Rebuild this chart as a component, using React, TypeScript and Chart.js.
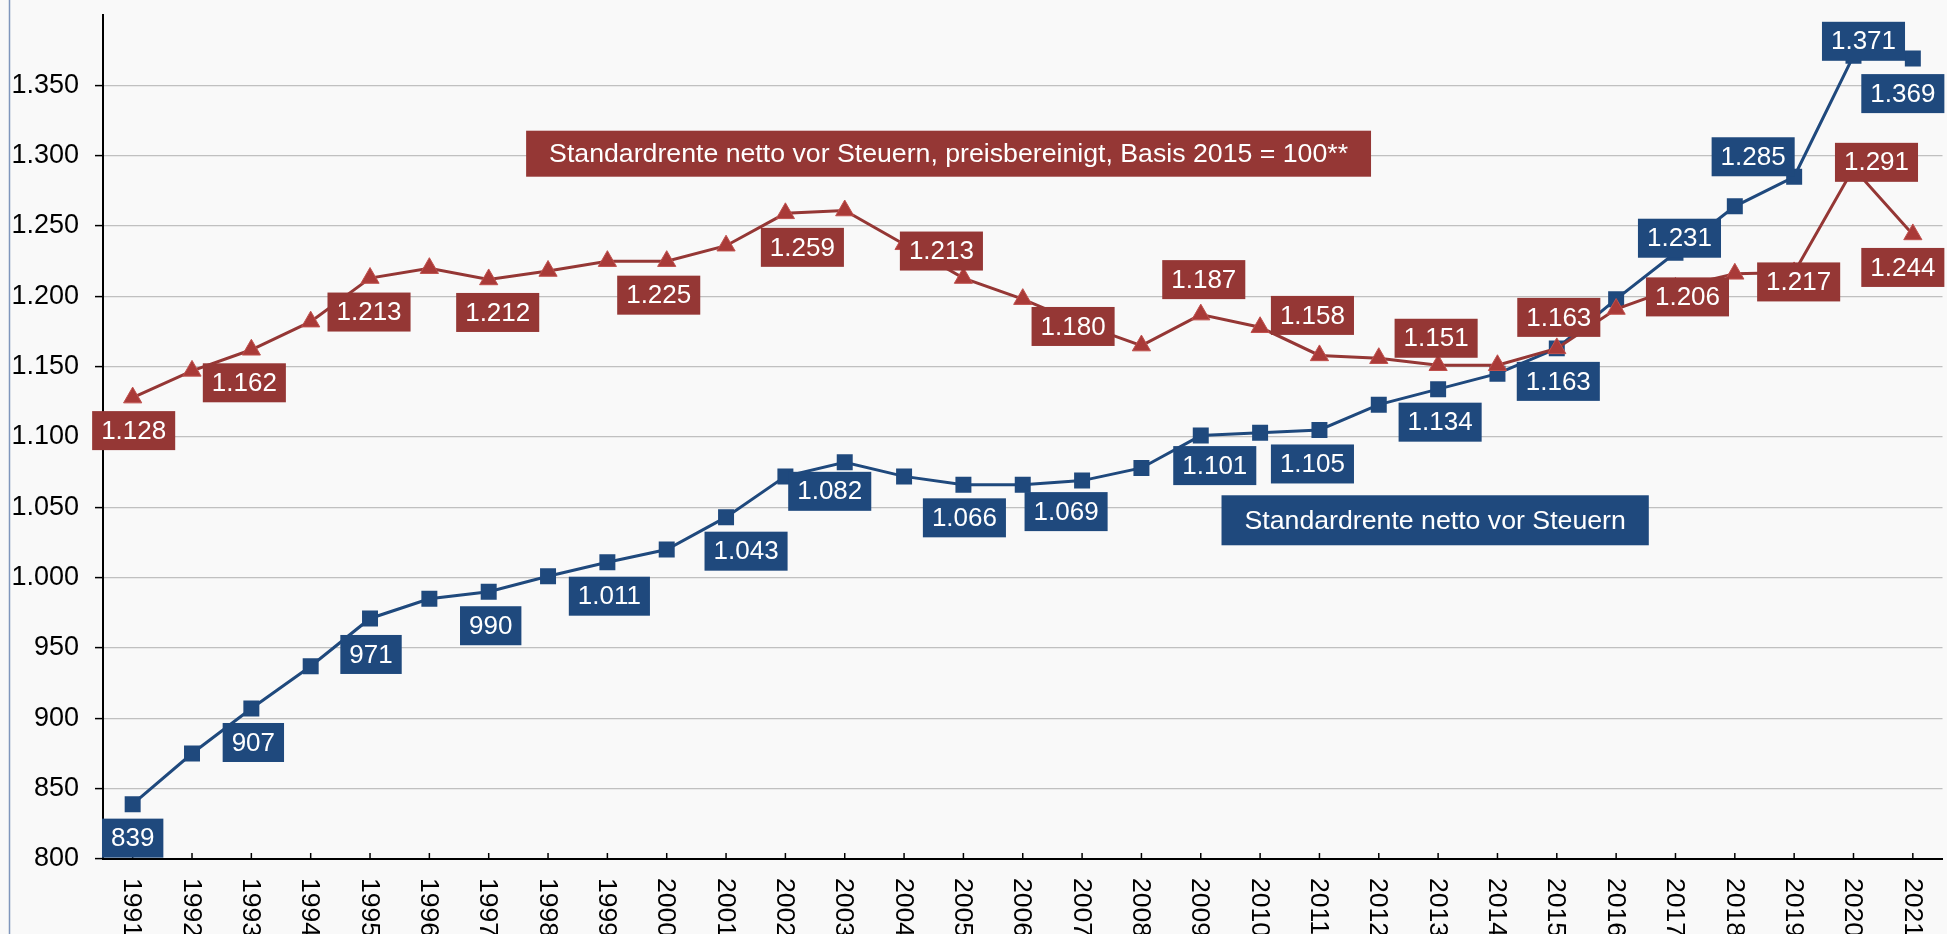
import React, { useEffect, useRef } from 'react';
import { Chart, registerables } from 'chart.js';

Chart.register(...registerables);

// ---------- data ----------
const years = [
  '1991', '1992', '1993', '1994', '1995', '1996', '1997', '1998', '1999', '2000',
  '2001', '2002', '2003', '2004', '2005', '2006', '2007', '2008', '2009', '2010',
  '2011', '2012', '2013', '2014', '2015', '2016', '2017', '2018', '2019', '2020', '2021',
];

// Standardrente netto vor Steuern (EUR)
const renteNetto = [
  839, 875, 907, 937, 971, 985, 990, 1001, 1011, 1020,
  1043, 1072, 1082, 1072, 1066, 1066, 1069, 1078, 1101, 1103,
  1105, 1123, 1134, 1145, 1163, 1198, 1231, 1264, 1285, 1371, 1369,
];

// Standardrente netto vor Steuern, preisbereinigt, Basis 2015 = 100
const renteReal = [
  1128, 1147, 1162, 1182, 1213, 1220, 1212, 1218, 1225, 1225,
  1236, 1259, 1261, 1237, 1213, 1198, 1180, 1165, 1187, 1178,
  1158, 1156, 1151, 1151, 1163, 1191, 1206, 1216, 1217, 1291, 1244,
];

const yTickValues = [800, 850, 900, 950, 1000, 1050, 1100, 1150, 1200, 1250, 1300, 1350];
const yMin = 800;
const yMax = 1400;

const seriesNettoName = 'Standardrente netto vor Steuern';
const seriesRealName = 'Standardrente netto vor Steuern, preisbereinigt, Basis 2015 = 100**';

// ---------- layout / styling (not data) ----------
// pixel offsets of each value label box centre relative to its point; null = no label
const nettoLabelOffsets: ([number, number] | null)[] = [
  [0, 34], null, [2, 34], null, [1, 36], null, [2, 34], null, [2, 34], null,
  [20, 34], null, [-15, 29], null, [1, 33], null, [-16, 31], null, [14, 30], null,
  [-7, 34], null, [2, 33], null, [1.5, 33], null, [4, -14.5], null, [-41, -20], [10, -14.5], [-10, 35],
];
const realLabelOffsets: ([number, number] | null)[] = [
  [1, 33], null, [-7, 33], null, [-1, 34], null, [9, 33], null, null, [-8, 34],
  null, [17, 34], null, null, [-22, -27], null, [-9, 2], null, [3, -35], null,
  [-7, -40], null, [-2, -27], null, [2, -31], null, [12, 9], null, [4.5, 9.5], [23, -6], [-10, 33],
];

const BLUE = '#1f497d';
const RED = '#953735';
const FONT_FAMILY = '"Liberation Sans", Arial, Helvetica, sans-serif';
const BG = '#f9f9f9';

const fmt = (v: number): string => {
  const n = Math.round(v);
  if (n >= 1000) return `${Math.floor(n / 1000)}.${String(n % 1000).padStart(3, '0')}`;
  return String(n);
};

const overlayPlugin = {
  id: 'overlay',
  beforeDraw(chart: any) {
    const { ctx, width, height } = chart;
    ctx.save();
    ctx.fillStyle = BG;
    ctx.fillRect(0, 0, width, height);
    ctx.strokeStyle = '#7f96bc';
    ctx.lineWidth = 1.5;
    ctx.beginPath();
    ctx.moveTo(9.5, 0);
    ctx.lineTo(9.5, height);
    ctx.stroke();
    ctx.restore();
  },
  afterDraw(chart: any) {
    const ctx = chart.ctx as CanvasRenderingContext2D;
    const xs = chart.scales.x;
    const ys = chart.scales.y;
    const axisY = chart.chartArea.bottom;
    ctx.save();

    // x ticks (inward) and rotated labels
    years.forEach((yr, i) => {
      const px = xs.getPixelForValue(i);
      ctx.strokeStyle = '#000';
      ctx.lineWidth = 1.5;
      ctx.beginPath();
      ctx.moveTo(px, axisY);
      ctx.lineTo(px, axisY - 6);
      ctx.stroke();
      ctx.save();
      ctx.translate(px, axisY + 19);
      ctx.rotate(Math.PI / 2);
      ctx.font = `26.5px ${FONT_FAMILY}`;
      ctx.fillStyle = '#000';
      ctx.textAlign = 'left';
      ctx.textBaseline = 'middle';
      ctx.fillText(yr, 0, 1);
      ctx.restore();
    });

    // value labels
    const drawLabels = (dsIndex: number, values: number[], offsets: ([number, number] | null)[], color: string) => {
      const meta = chart.getDatasetMeta(dsIndex);
      ctx.font = `26px ${FONT_FAMILY}`;
      values.forEach((v, i) => {
        const off = offsets[i];
        if (!off) return;
        const pt = meta.data[i];
        const cx = pt.x + off[0];
        const cy = pt.y + off[1];
        const text = fmt(v);
        const w = ctx.measureText(text).width + 18;
        const h = 39;
        ctx.fillStyle = color;
        ctx.fillRect(cx - w / 2, cy - h / 2, w, h);
        ctx.fillStyle = '#ffffff';
        ctx.textAlign = 'center';
        ctx.textBaseline = 'middle';
        ctx.fillText(text, cx, cy + 1);
      });
    };
    drawLabels(1, renteNetto, nettoLabelOffsets, BLUE);
    drawLabels(0, renteReal, realLabelOffsets, RED);

    // series name boxes, anchored in data space
    const nameBox = (text: string, idx: number, val: number, h: number, color: string) => {
      ctx.font = `26.7px ${FONT_FAMILY}`;
      const cx = xs.getPixelForValue(idx);
      const cy = ys.getPixelForValue(val);
      const w = ctx.measureText(text).width + 46;
      ctx.fillStyle = color;
      ctx.fillRect(cx - w / 2, cy - h / 2, w, h);
      ctx.fillStyle = '#ffffff';
      ctx.textAlign = 'center';
      ctx.textBaseline = 'middle';
      ctx.fillText(text, cx, cy + 1);
    };
    nameBox(seriesRealName, 13.75, 1301.4, 46, RED);
    nameBox(seriesNettoName, 21.95, 1040.8, 50, BLUE);

    ctx.restore();
  },
};

export default function App() {
  const canvasRef = useRef<HTMLCanvasElement | null>(null);

  useEffect(() => {
    const canvas = canvasRef.current;
    if (!canvas) return;
    const chart = new Chart(canvas, {
      type: 'line',
      data: {
        labels: years,
        datasets: [
          {
            label: seriesRealName,
            data: renteReal,
            borderColor: RED,
            borderWidth: 3,
            backgroundColor: '#a93a38',
            pointBackgroundColor: '#a93a38',
            pointBorderColor: '#c0504d',
            pointBorderWidth: 1,
            pointStyle: 'triangle',
            pointRadius: 10.5,
            tension: 0,
            fill: false,
          },
          {
            label: seriesNettoName,
            data: renteNetto,
            borderColor: BLUE,
            borderWidth: 3,
            backgroundColor: BLUE,
            pointBackgroundColor: BLUE,
            pointBorderColor: BLUE,
            pointBorderWidth: 0,
            pointStyle: 'rect',
            pointRadius: 11.3,
            tension: 0,
            fill: false,
          },
        ],
      },
      options: {
        responsive: false,
        maintainAspectRatio: false,
        animation: false,
        devicePixelRatio: 1,
        layout: { padding: { top: 15, left: 0, right: 0, bottom: 0 } },
        plugins: {
          legend: { display: false },
          tooltip: { enabled: false },
          title: { display: false },
        },
        scales: {
          x: {
            type: 'category',
            offset: true,
            ticks: { display: false },
            grid: { display: true, drawOnChartArea: false, drawTicks: false },
            border: { display: true, color: '#000', width: 2 },
            afterFit: (s: any) => {
              s.height = 75;
            },
          },
          y: {
            type: 'linear',
            min: yMin,
            max: yMax,
            afterBuildTicks: (s: any) => {
              s.ticks = yTickValues.map((v) => ({ value: v }));
            },
            afterFit: (s: any) => {
              s.width = 103;
              s.paddingTop = 0;
              s.paddingBottom = 0;
            },
            ticks: {
              callback: (v: any) => fmt(Number(v)),
              font: { family: FONT_FAMILY, size: 27, lineHeight: 1 },
              color: '#000',
              padding: 16,
            },
            grid: {
              color: '#c0c0c0',
              lineWidth: 1.2,
              tickColor: '#000',
              tickLength: 8,
              tickWidth: 1.5,
            },
            border: { display: true, color: '#000', width: 2 },
          },
        },
      },
      plugins: [overlayPlugin],
    });
    return () => chart.destroy();
  }, []);

  return (
    <div
      style={{
        position: 'fixed',
        left: 0,
        top: 0,
        width: 1947,
        height: 934,
        overflow: 'hidden',
        background: BG,
      }}
    >
      <canvas ref={canvasRef} width={1954} height={934} style={{ display: 'block', width: 1954, height: 934 }} />
    </div>
  );
}
